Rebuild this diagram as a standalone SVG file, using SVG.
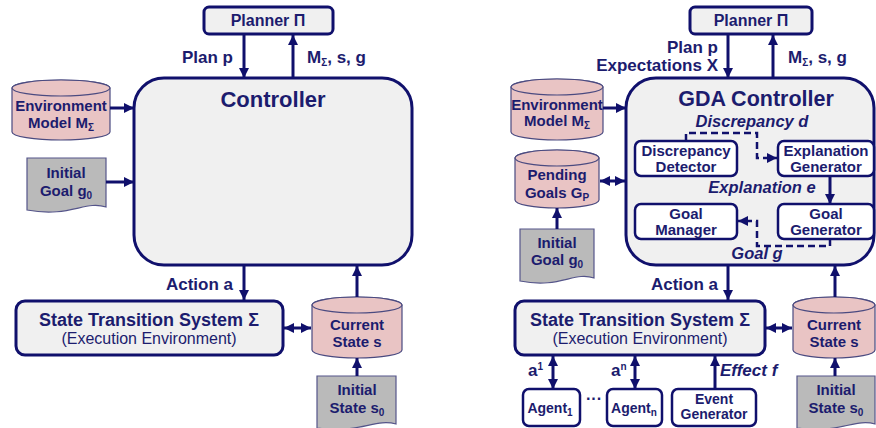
<svg xmlns="http://www.w3.org/2000/svg" width="876" height="428" viewBox="0 0 876 428">
<style>
text{font-family:"Liberation Sans",Arial,sans-serif;fill:#1c1c6e;font-weight:bold}
.box{fill:#f0f0f0;stroke:#10106c;stroke-width:3}
.ibox{fill:#ffffff;stroke:#10106c;stroke-width:2.5}
.cyl{fill:#e9c4c4;stroke:#4a4a80;stroke-width:1.2}
.doc{fill:#bababa;stroke:#55558a;stroke-width:1.2}
.ln{stroke:#10106c;stroke-width:3;fill:none}
.dl{stroke:#10106c;stroke-width:2.5;fill:none;stroke-dasharray:7 4}
.n15{font-size:15px;text-anchor:middle}
.n14{font-size:14px;text-anchor:middle}
.e16{font-size:17px}
.it{font-size:16.5px;font-style:italic;text-anchor:middle}
.sub{font-size:10px}
</style>
<defs>
<marker id="ah" viewBox="0 0 10 10" refX="10" refY="5" markerWidth="10" markerHeight="10" markerUnits="userSpaceOnUse" orient="auto"><path d="M0,0 L10,5 L0,10 z" fill="#10106c"/></marker>
<marker id="as" viewBox="0 0 10 10" refX="0" refY="5" markerWidth="10" markerHeight="10" markerUnits="userSpaceOnUse" orient="auto"><path d="M10,0 L0,5 L10,10 z" fill="#10106c"/></marker>
</defs>

<!-- LEFT DIAGRAM -->
<g id="planner-l">
<rect class="box" x="204" y="7" width="129" height="27" rx="5"/>
<text class="n15" x="268" y="26" style="font-size:16px">Planner Π</text>
</g>
<g id="controller-l">
<rect class="box" x="134" y="78" width="278" height="187" rx="30"/>
<text x="273" y="107" style="font-size:22px;text-anchor:middle">Controller</text>
</g>
<g id="envmodel-l">
<path class="cyl" d="M12,88 A49,8 0 0 1 110,88 V132 A49,8 0 0 1 12,132 Z"/>
<ellipse class="cyl" cx="61" cy="88" rx="49" ry="8"/>
<text class="n15" x="61" y="111">Environment</text>
<text class="n15" x="61" y="128">Model M<tspan class="sub" dy="3">Σ</tspan></text>
</g>
<g id="initgoal-l">
<path class="doc" d="M27,158 H106 V207 C85,200 70,218 27,210 Z"/>
<text class="n15" x="66" y="178">Initial</text>
<text class="n15" x="66" y="196">Goal g<tspan class="sub" dy="3">0</tspan></text>
</g>
<g id="sts-l">
<rect class="box" x="16" y="301" width="267" height="54" rx="9"/>
<text x="149" y="326" style="font-size:18px;text-anchor:middle">State Transition System Σ</text>
<text x="149" y="344" style="font-size:16px;font-weight:normal;text-anchor:middle">(Execution Environment)</text>
</g>
<g id="curstate-l">
<path class="cyl" d="M312,305 A45,8 0 0 1 402,305 V350 A45,8 0 0 1 312,350 Z"/>
<ellipse class="cyl" cx="357" cy="305" rx="45" ry="8"/>
<text class="n15" x="357" y="330">Current</text>
<text class="n15" x="357" y="347">State s</text>
</g>
<g id="initstate-l">
<path class="doc" d="M317,376 H396 V424 C375,418 360,434 317,428 Z"/>
<text class="n15" x="357" y="395">Initial</text>
<text class="n15" x="357" y="413">State s<tspan class="sub" dy="3">0</tspan></text>
</g>

<!-- RIGHT DIAGRAM -->
<g id="planner-r">
<rect class="box" x="690" y="7" width="122" height="27" rx="5"/>
<text class="n15" x="751" y="26" style="font-size:16px">Planner Π</text>
</g>
<g id="controller-r">
<rect class="box" x="626" y="78" width="248" height="187" rx="30"/>
<text x="756" y="106" style="font-size:21.5px;text-anchor:middle">GDA Controller</text>
</g>
<g id="detector">
<rect class="ibox" x="635" y="141" width="102" height="35" rx="6"/>
<text class="n15" x="686" y="156">Discrepancy</text>
<text class="n15" x="686" y="172">Detector</text>
</g>
<g id="explgen">
<rect class="ibox" x="778" y="141" width="96" height="35" rx="6"/>
<text class="n15" x="826" y="156">Explanation</text>
<text class="n15" x="826" y="172">Generator</text>
</g>
<g id="goalmgr">
<rect class="ibox" x="635" y="204" width="102" height="35" rx="6"/>
<text class="n15" x="686" y="219">Goal</text>
<text class="n15" x="686" y="235">Manager</text>
</g>
<g id="goalgen">
<rect class="ibox" x="778" y="204" width="96" height="35" rx="6"/>
<text class="n15" x="826" y="219">Goal</text>
<text class="n15" x="826" y="235">Generator</text>
</g>
<g id="envmodel-r">
<path class="cyl" d="M511,87 A46,8 0 0 1 603,87 V132 A46,8 0 0 1 511,132 Z"/>
<ellipse class="cyl" cx="557" cy="87" rx="46" ry="8"/>
<text class="n15" x="557" y="110">Environment</text>
<text class="n15" x="557" y="126">Model M<tspan class="sub" dy="3">Σ</tspan></text>
</g>
<g id="pending">
<path class="cyl" d="M515,158 A42,8 0 0 1 599,158 V200 A42,8 0 0 1 515,200 Z"/>
<ellipse class="cyl" cx="557" cy="158" rx="42" ry="8"/>
<text class="n15" x="557" y="180">Pending</text>
<text class="n15" x="557" y="198">Goals G<tspan class="sub" dy="3">P</tspan></text>
</g>
<g id="initgoal-r">
<path class="doc" d="M520,229 H594 V278 C574,271 560,289 520,281 Z"/>
<text class="n15" x="557" y="248">Initial</text>
<text class="n15" x="557" y="265">Goal g<tspan class="sub" dy="3">0</tspan></text>
</g>
<g id="sts-r">
<rect class="box" x="515" y="301" width="250" height="54" rx="9"/>
<text x="640" y="326" style="font-size:18px;text-anchor:middle">State Transition System Σ</text>
<text x="640" y="344" style="font-size:16px;font-weight:normal;text-anchor:middle">(Execution Environment)</text>
</g>
<g id="curstate-r">
<path class="cyl" d="M793,305 A41,8 0 0 1 875,305 V350 A41,8 0 0 1 793,350 Z"/>
<ellipse class="cyl" cx="834" cy="305" rx="41" ry="8"/>
<text class="n15" x="834" y="330">Current</text>
<text class="n15" x="834" y="347">State s</text>
</g>
<g id="initstate-r">
<path class="doc" d="M797,376 H875 V424 C855,418 840,434 797,428 Z"/>
<text class="n15" x="836" y="395">Initial</text>
<text class="n15" x="836" y="413">State s<tspan class="sub" dy="3">0</tspan></text>
</g>
<g id="agent1">
<rect class="ibox" x="523" y="389" width="57" height="37" rx="6"/>
<text class="n14" x="550" y="413">Agent<tspan class="sub" dy="3">1</tspan></text>
</g>
<g id="agentn">
<rect class="ibox" x="607" y="389" width="55" height="37" rx="6"/>
<text class="n14" x="634" y="413">Agent<tspan class="sub" dy="3">n</tspan></text>
</g>
<g id="eventgen">
<rect class="ibox" x="672" y="389" width="84" height="37" rx="6"/>
<text class="n14" x="714" y="404">Event</text>
<text class="n14" x="714" y="419">Generator</text>
</g>
<text x="594" y="404" style="font-size:16px;text-anchor:middle">···</text>

<!-- CONNECTORS -->
<g id="connectors">
<line class="ln" x1="244" y1="34" x2="244" y2="78" marker-end="url(#ah)"/>
<line class="ln" x1="293" y1="78" x2="293" y2="35" marker-end="url(#ah)"/>
<line class="ln" x1="110" y1="108" x2="134" y2="108" marker-end="url(#ah)"/>
<line class="ln" x1="106" y1="182" x2="134" y2="182" marker-end="url(#ah)"/>
<line class="ln" x1="244" y1="265" x2="244" y2="300" marker-end="url(#ah)"/>
<line class="ln" x1="357" y1="297" x2="357" y2="266" marker-end="url(#ah)"/>
<line class="ln" x1="284" y1="328" x2="311" y2="328" marker-start="url(#as)" marker-end="url(#ah)"/>
<line class="ln" x1="357" y1="376" x2="357" y2="358" marker-end="url(#ah)"/>
<line class="ln" x1="728" y1="34" x2="728" y2="78" marker-end="url(#ah)"/>
<line class="ln" x1="773" y1="78" x2="773" y2="35" marker-end="url(#ah)"/>
<line class="ln" x1="603" y1="108" x2="626" y2="108" marker-end="url(#ah)"/>
<line class="ln" x1="600" y1="181" x2="625" y2="181" marker-start="url(#as)" marker-end="url(#ah)"/>
<line class="ln" x1="557" y1="229" x2="557" y2="208" marker-end="url(#ah)"/>
<path class="dl" d="M686,141 V133 H757 V158 H777" marker-end="url(#ah)"/>
<line class="ln" x1="830" y1="176" x2="830" y2="204" marker-end="url(#ah)"/>
<path class="dl" d="M830,239 V246 H757 V221 H738" marker-end="url(#ah)"/>
<line class="ln" x1="728" y1="265" x2="728" y2="300" marker-end="url(#ah)"/>
<line class="ln" x1="835" y1="297" x2="835" y2="266" marker-end="url(#ah)"/>
<line class="ln" x1="766" y1="328" x2="792" y2="328" marker-start="url(#as)" marker-end="url(#ah)"/>
<line class="ln" x1="835" y1="376" x2="835" y2="358" marker-end="url(#ah)"/>
<line class="ln" x1="553" y1="356" x2="553" y2="389" marker-start="url(#as)" marker-end="url(#ah)"/>
<line class="ln" x1="635" y1="356" x2="635" y2="389" marker-start="url(#as)" marker-end="url(#ah)"/>
<line class="ln" x1="715" y1="389" x2="715" y2="356" marker-end="url(#ah)"/>
</g>

<!-- EDGE LABELS -->
<g id="labels">
<text class="e16" x="233" y="63" text-anchor="end">Plan p</text>
<text class="e16" x="307" y="63">M<tspan class="sub" dy="3">Σ</tspan><tspan dy="-3">, s, g</tspan></text>
<text class="e16" x="233" y="290" text-anchor="end">Action a</text>
<text class="e16" x="718" y="53" text-anchor="end">Plan p</text>
<text class="e16" x="718" y="71" text-anchor="end">Expectations X</text>
<text class="e16" x="788" y="63">M<tspan class="sub" dy="3">Σ</tspan><tspan dy="-3">, s, g</tspan></text>
<text class="e16" x="718" y="290" text-anchor="end">Action a</text>
<text class="it" x="752" y="127">Discrepancy d</text>
<text class="it" x="762" y="193">Explanation e</text>
<text class="it" x="757" y="259">Goal g</text>
<text class="e16" x="528" y="376">a<tspan class="sub" dy="-6">1</tspan></text>
<text class="e16" x="611" y="376">a<tspan class="sub" dy="-6">n</tspan></text>
<text class="e16" x="720" y="376" style="font-style:italic">Effect f</text>
</g>
</svg>
